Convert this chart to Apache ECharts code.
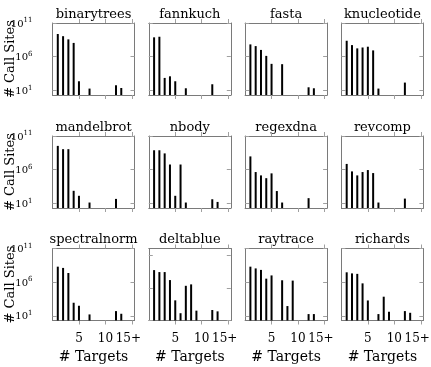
<!DOCTYPE html>
<html><head><meta charset="utf-8">
<script src="https://cdn.jsdelivr.net/npm/echarts@6/dist/echarts.min.js"></script>
<style>html,body{margin:0;padding:0;background:#fff}#c{width:431px;height:367px}</style>
</head><body><div id="c"></div>
<script>
const benchmarks = ['binarytrees','fannkuch','fasta','knucleotide','mandelbrot','nbody','regexdna','revcomp','spectralnorm','deltablue','raytrace','richards'];
const xTickValues = [5, 10, 15];
const xTickLabels = ['5', '10', '15+'];
const yTickValues = [10, 1e6, 1e11];
const deltablueYTickValues = [1, 1e5, 1e10];
const yLabel = '# Call Sites';
const xLabel = '# Targets';

const binarytreesTargets = [1,2,3,4,5,7,12,13];
const binarytreesSites   = [2.3e9,1.1e9,3.7e8,1.1e8,220,18,56,22];
const fannkuchTargets    = [1,2,3,4,5,7,12];
const fannkuchSites      = [7.4e8,9.1e8,690,1200,220,20,79];
const fastaTargets       = [1,2,3,4,5,7,12,13];
const fastaSites         = [6.6e7,3.7e7,1.0e7,1.3e6,85000,76000,28,20];
const knucleotideTargets = [1,2,3,4,5,6,7,12];
const knucleotideSites   = [2.3e8,5.2e7,1.7e7,2.3e7,3.0e7,8.5e6,18,140];
const mandelbrotTargets  = [1,2,3,4,5,7,12];
const mandelbrotSites    = [3.4e9,1.1e9,1.1e9,720,130,13,45];
const nbodyTargets       = [1,2,3,4,5,6,7,12,13];
const nbodySites         = [7.6e8,7.6e8,2.6e8,5.8e6,130,5.8e6,13,40,16];
const regexdnaTargets    = [1,2,3,4,5,6,7,12];
const regexdnaSites      = [9.3e7,4.4e5,1.4e5,54000,2.8e5,660,13,58];
const revcompTargets     = [1,2,3,4,5,6,7,12];
const revcompSites       = [7.1e6,5.5e5,1.4e5,4.4e5,8.7e5,3.1e5,13,50];
const spectralnormTargets= [1,2,3,4,5,7,12,13];
const spectralnormSites  = [2.0e8,1.3e8,2.3e7,870,310,16,50,20];
const deltablueTargets   = [1,2,3,4,5,6,7,8,9,12,13];
const deltablueSites     = [5.0e7,2.5e7,2.5e7,1.5e6,1200,13,2.0e5,3.3e5,32,40,25];
const raytraceTargets    = [1,2,3,4,5,7,8,9,12,13];
const raytraceSites      = [2.0e8,1.1e8,6.6e7,3.3e6,1.0e7,1.9e6,280,1.7e6,18,18];
const richardsTargets    = [1,2,3,4,5,7,8,9,12,13];
const richardsSites      = [2.9e7,2.0e7,1.7e7,6.6e5,1900,18,6900,40,50,28];

const panelData = {
  binarytrees:[binarytreesTargets,binarytreesSites], fannkuch:[fannkuchTargets,fannkuchSites],
  fasta:[fastaTargets,fastaSites], knucleotide:[knucleotideTargets,knucleotideSites],
  mandelbrot:[mandelbrotTargets,mandelbrotSites], nbody:[nbodyTargets,nbodySites],
  regexdna:[regexdnaTargets,regexdnaSites], revcomp:[revcompTargets,revcompSites],
  spectralnorm:[spectralnormTargets,spectralnormSites], deltablue:[deltablueTargets,deltablueSites],
  raytrace:[raytraceTargets,raytraceSites], richards:[richardsTargets,richardsSites]
};

const FONT = '"DejaVu Serif", serif';
const colLeft = [52.5, 148.8, 245.1, 341.4];
const rowTop = [23, 136, 248.5];
const W = 82, H = 72;
const frameColor = '#7a7a7a', tickColor = '#a0a0a0';

const grid = [], xAxis = [], yAxis = [], series = [], graphic = [];
benchmarks.forEach((name, i) => {
  const r = Math.floor(i / 4), c = i % 4;
  const left = colLeft[c], top = rowTop[r];
  grid.push({left: left, top: top, width: W, height: H, containLabel: false, outerBoundsMode: 'none'});
  const isDelta = name === 'deltablue';
  const yTicks = isDelta ? deltablueYTickValues : yTickValues;
  const yMin = isDelta ? 1 : 2;
  xAxis.push({
    type: 'value', gridIndex: i, min: 0, max: 15.5, position: 'bottom',
    axisLine: {show: true, onZero: false, lineStyle: {color: frameColor, width: 1}},
    axisTick: {show: true, inside: false, length: 4, customValues: xTickValues, lineStyle: {color: tickColor}},
    axisLabel: {show: r === 2, customValues: xTickValues, margin: 12, color: '#000', fontFamily: FONT, fontSize: 12,
      hideOverlap: false,
      formatter: v => v === 15 ? '{p|' + xTickLabels[2] + '}' : xTickLabels[xTickValues.indexOf(v)],
      rich: {p: {fontSize: 12, fontFamily: FONT, color: '#000', padding: [0, 7, 0, 0]}}},
    splitLine: {show: false},
    name: r === 2 ? xLabel : '', nameLocation: 'middle', nameGap: 30, nameMoveOverlap: false,
    nameTextStyle: {color: '#000', fontFamily: FONT, fontSize: 14}
  });
  xAxis.push({
    type: 'value', gridIndex: i, min: 0, max: 15.5, position: 'top',
    axisLine: {show: true, onZero: false, lineStyle: {color: frameColor, width: 1}},
    axisTick: {show: true, inside: false, length: 4, customValues: xTickValues, lineStyle: {color: tickColor}},
    axisLabel: {show: false}, splitLine: {show: false}
  });
  yAxis.push({
    type: 'log', logBase: 10, gridIndex: i, min: yMin, max: 1e11, position: 'left',
    axisLine: {show: true, onZero: false, lineStyle: {color: frameColor, width: 1}},
    axisTick: {show: true, inside: true, length: 4, customValues: yTicks, lineStyle: {color: tickColor}},
    axisLabel: {show: c === 0, customValues: yTicks, margin: 20, color: '#000', fontFamily: FONT,
      formatter: v => '{b|10}{s|' + Math.round(Math.log10(v)) + '}',
      rich: {b: {fontSize: 10, fontFamily: FONT, color: '#000', verticalAlign: 'bottom'},
             s: {fontSize: 7, fontFamily: FONT, color: '#000', verticalAlign: 'bottom', padding: [0, 0, 5, 0]}}},
    splitLine: {show: false}, minorTick: {show: false}
  });
  yAxis.push({
    type: 'log', logBase: 10, gridIndex: i, min: yMin, max: 1e11, position: 'right',
    axisLine: {show: true, onZero: false, lineStyle: {color: frameColor, width: 1}},
    axisTick: {show: true, inside: true, length: 4, customValues: yTicks, lineStyle: {color: tickColor}},
    axisLabel: {show: false}, splitLine: {show: false}
  });
  const [tg, st] = panelData[name];
  series.push({
    type: 'bar', xAxisIndex: 2 * i, yAxisIndex: 2 * i, barWidth: 2, clip: true, silent: true,
    itemStyle: {color: '#000'},
    data: tg.map((t, j) => [t, st[j]])
  });
  graphic.push({
    type: 'text', silent: true,
    style: {text: name, x: left + W / 2, y: top - 2, align: 'center', verticalAlign: 'bottom',
      font: '13px ' + FONT, fill: '#000'}
  });
  if (c === 0) {
    graphic.push({
      type: 'text', silent: true, x: 11, y: top + H / 2, rotation: Math.PI / 2,
      style: {text: yLabel, x: 0, y: 0, align: 'center', verticalAlign: 'middle',
        font: '13px ' + FONT, fill: '#000'}
    });
  }
});

const chart = echarts.init(document.getElementById('c'), null, {renderer: 'canvas'});
chart.setOption({animation: false, backgroundColor: '#fff', grid, xAxis, yAxis, series, graphic});
</script></body></html>
